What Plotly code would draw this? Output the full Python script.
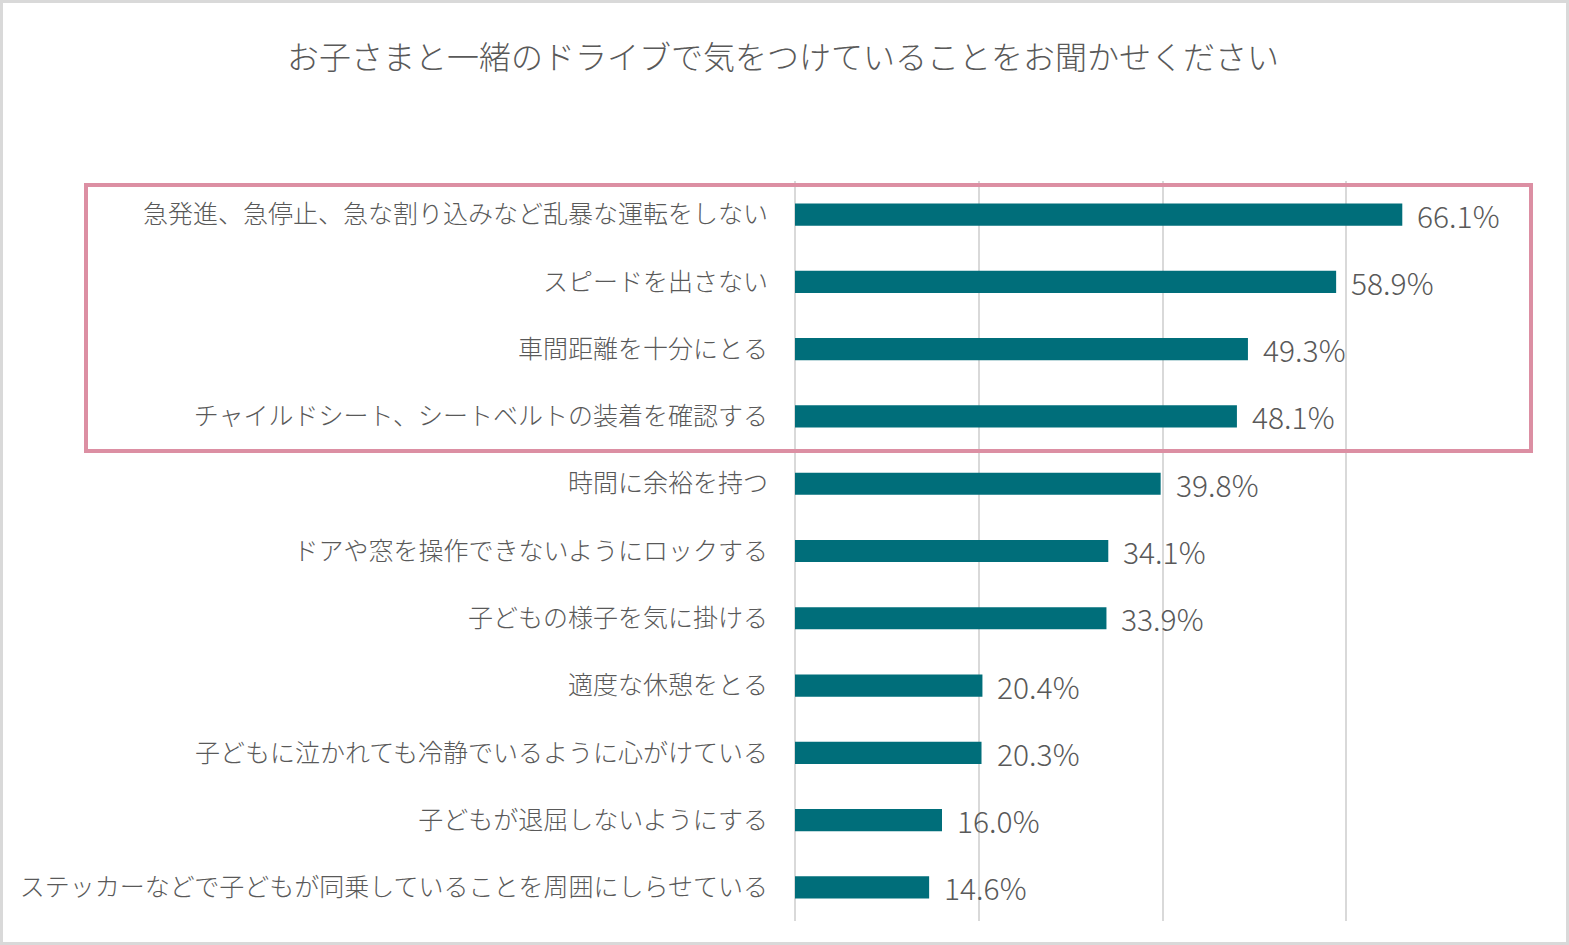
import plotly.graph_objects as go

categories = [
    "急発進、急停止、急な割り込みなど乱暴な運転をしない",
    "スピードを出さない",
    "車間距離を十分にとる",
    "チャイルドシート、シートベルトの装着を確認する",
    "時間に余裕を持つ",
    "ドアや窓を操作できないようにロックする",
    "子どもの様子を気に掛ける",
    "適度な休憩をとる",
    "子どもに泣かれても冷静でいるように心がけている",
    "子どもが退屈しないようにする",
    "ステッカーなどで子どもが同乗していることを周囲にしらせている",
]
values = [66.1, 58.9, 49.3, 48.1, 39.8, 34.1, 33.9, 20.4, 20.3, 16.0, 14.6]
title_text = "お子さまと一緒のドライブで気をつけていることをお聞かせください"

W, H = 1569, 945
L, R, T, B = 795, 1530, 181, 921
pw, ph = R - L, B - T

def px(x):
    return (x - L) / pw

def py(y):
    return (B - y) / ph

FONT = "Noto Sans CJK JP"
GRAY = "#595959"

fig = go.Figure(go.Bar(
    y=categories,
    x=values,
    orientation="h",
    marker=dict(color="#006E7A", line=dict(width=0)),
    width=0.33,
    hoverinfo="x+y",
))

annotations = [
    dict(x=v, y=c, xref="x", yref="y", text=f"{v:.1f}%", showarrow=False,
         xanchor="left", yanchor="middle", xshift=13,
         font=dict(family=FONT, size=30, color=GRAY, weight=300))
    for c, v in zip(categories, values)
]

fig.update_layout(
    width=W, height=H,
    margin=dict(l=L, r=W - R, t=T, b=H - B, autoexpand=False),
    paper_bgcolor="white",
    plot_bgcolor="white",
    showlegend=False,
    title=dict(text=title_text, x=783 / W, xanchor="center",
               y=1 - 58 / H, yanchor="middle", yref="container",
               font=dict(family=FONT, size=32, color=GRAY, weight=300)),
    font=dict(family=FONT, color=GRAY),
    xaxis=dict(range=[0, 80], dtick=20, showticklabels=False,
               showgrid=True, gridcolor="#d9d9d9", gridwidth=2,
               zeroline=True, zerolinecolor="#d9d9d9", zerolinewidth=2,
               showline=False, fixedrange=True),
    yaxis=dict(autorange="reversed", showgrid=False, showline=False,
               ticks="", ticklabelstandoff=26, automargin=False,
               tickfont=dict(family=FONT, size=25, color=GRAY, weight=300)),
    annotations=annotations,
    shapes=[
        dict(type="rect", xref="paper", yref="paper",
             x0=px(86), x1=px(1531), y0=py(451), y1=py(185),
             line=dict(color="#DC8FA3", width=4), fillcolor="rgba(0,0,0,0)"),
        dict(type="rect", xref="paper", yref="paper",
             x0=px(1.5), x1=px(1567.5), y0=py(943.5), y1=py(1.5),
             line=dict(color="#d9d9d9", width=3), fillcolor="rgba(0,0,0,0)"),
    ],
)

fig.write_html(
    "out.html",
    config={"displayModeBar": False},
    post_script="document.body.style.margin='0';document.body.style.overflow='hidden';",
)
